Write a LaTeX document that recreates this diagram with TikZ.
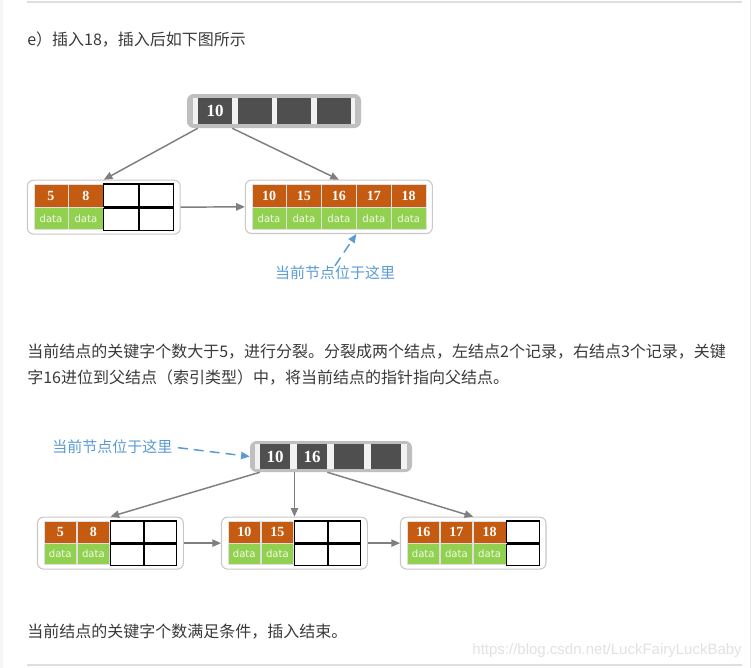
\documentclass[tikz,border=0pt]{standalone}
\usepackage{fontspec}
\setmainfont{Noto Sans CJK SC}
\newfontfamily\numfont{Liberation Serif}
\newfontfamily\datfont{DejaVu Sans}
\newfontfamily\wmfont{Liberation Sans}
\usepackage{tikz}
\usetikzlibrary{arrows.meta,positioning,fit}
\definecolor{keyorange}{HTML}{C55A11}
\definecolor{datagreen}{HTML}{92D050}
\definecolor{rootdark}{HTML}{4F4F4F}
\definecolor{rootgray}{HTML}{BFBFBF}
\definecolor{rootstrip}{HTML}{F2F2F2}
\definecolor{framegray}{HTML}{C8C8C8}
\definecolor{linkgray}{HTML}{7F7F7F}
\definecolor{notblue}{HTML}{5B9BD5}
\definecolor{bodytext}{HTML}{3A3A3A}
\definecolor{rulegray}{HTML}{DEDEDE}
\definecolor{markgray}{HTML}{E2E2E2}
\definecolor{soft}{HTML}{F5F6F8}

\begin{document}
\begin{tikzpicture}[
 x=0.75pt,y=-0.75pt,
 node distance=0pt,
 txt/.style={anchor=west,inner sep=0pt,text=bodytext,font=\fontsize{12pt}{16pt}\selectfont},
 note/.style={inner sep=0pt,text=notblue,font=\fontsize{11.25pt}{14pt}\selectfont},
 keycell/.style={draw=white!75!gray,line width=0.5pt,fill=keyorange,text=white,inner sep=0pt,
   minimum width=25.7pt,minimum height=17.25pt,font=\numfont\bfseries\fontsize{10.5pt}{12pt}\selectfont},
 datacell/.style={draw=white!75!gray,line width=0.5pt,fill=datagreen,text=white!88!datagreen,inner sep=0pt,
   minimum width=25.7pt,minimum height=16.5pt,font=\datfont\fontsize{7.6pt}{9pt}\selectfont},
 nilcell/.style={draw=black,line width=0.8pt,fill=white,inner sep=0pt,minimum width=25.7pt,minimum height=17.25pt},
 lower/.style={minimum height=16.5pt},
 narrow/.style={minimum width=24.4pt},
 leaf/.style={draw=framegray,line width=0.8pt,rounded corners=4.5pt,inner xsep=4.6pt,inner ysep=2.6pt},
 rootbox/.style={fill=rootgray,rounded corners=5pt,inner sep=0pt},
 strip/.style={fill=rootstrip,inner sep=0pt},
 rkey/.style={fill=rootdark,text=white,inner sep=0pt,font=\numfont\bfseries\fontsize{12.75pt}{14pt}\selectfont},
 link/.style={draw=linkgray,line width=1.1pt,-{Triangle[length=6.5pt,width=5.5pt]}},
 cur/.style={draw=notblue,line width=1.1pt,dash pattern=on 7.5pt off 4.5pt,-{Triangle[length=6.5pt,width=5.5pt]}},
]
\useasboundingbox (0,0) rectangle (754,668);
\fill[white] (0,0) rectangle (754,668);
\fill[soft] (0,0) rectangle (3,668);
\draw[rulegray!60,line width=0.6pt] (750,0) -- (750,668);
\draw[rulegray,line width=1pt] (27,2) -- (742,2);
\draw[rulegray,line width=1pt] (27,665) -- (742,665);

% step e: insert 18
\node[txt] (cap1) at (27,40) {e）插入18，插入后如下图所示};

% root before the split
\node[rootbox,minimum width=130.5pt,minimum height=25.5pt] (troot) at (274,111) {};
\node[strip,minimum width=121.5pt,minimum height=19.5pt] (tstrip) at (troot) {};
\node[rkey,minimum width=25.5pt,minimum height=19.5pt] (t10) at (215,111) {10};
\node[rkey,minimum width=25.5pt,minimum height=19.5pt,right=3.75pt of t10] (tr2) {};
\node[rkey,minimum width=25.5pt,minimum height=19.5pt,right=3.75pt of tr2] (tr3) {};
\node[rkey,minimum width=25.5pt,minimum height=19.5pt,right=3.75pt of tr3] (tr4) {};

% left leaf
\node[keycell] (ta5) at (51,195.5) {5};
\node[keycell,right=of ta5] (ta8) {8};
\node[nilcell,right=of ta8] (tan1) {};
\node[nilcell,right=of tan1] (tan2) {};
\node[datacell,below=of ta5] (tad1) {data};
\node[datacell,below=of ta8] (tad2) {data};
\node[nilcell,lower,below=of tan1] (tan3) {};
\node[nilcell,lower,below=of tan2] (tan4) {};
\node[leaf,fit=(ta5)(tan4)] (tl) {};

% right leaf, five records
\node[keycell] (t10b) at (269,195.5) {10};
\node[keycell,right=of t10b] (t15) {15};
\node[keycell,right=of t15] (t16) {16};
\node[keycell,right=of t16] (t17) {17};
\node[keycell,right=of t17] (t18) {18};
\node[datacell,below=of t10b] (tbd1) {data};
\node[datacell,below=of t15] (tbd2) {data};
\node[datacell,below=of t16] (tbd3) {data};
\node[datacell,below=of t17] (tbd4) {data};
\node[datacell,below=of t18] (tbd5) {data};
\node[leaf,fit=(t10b)(tbd5)] (tr) {};

\draw[link] (t10.south west |- troot.south) -- (tl.north);
\draw[link] (t10.south east |- troot.south) -- (tr.north);
\draw[link] (tl.east) -- (tr.west);

\node[note] (tlabel) at (335,273) {当前节点位于这里};
\draw[cur] (tlabel.north) -- (t17.south west |- tr.south);

% explanation
\node[txt] (par1) at (27,352) {当前结点的关键字个数大于5，进行分裂。分裂成两个结点，左结点2个记录，右结点3个记录，关键};
\node[txt] (par2) at (27,378) {字16进位到父结点（索引类型）中，将当前结点的指针指向父结点。};

% root after the split
\node[rootbox,minimum width=121.5pt,minimum height=23.25pt] (broot) at (331,456.5) {};
\node[strip,minimum width=114pt,minimum height=18.75pt] (bstrip) at (broot) {};
\node[rkey,minimum width=22.5pt,minimum height=18.75pt] (b10) at (275,456.5) {10};
\node[rkey,minimum width=22.5pt,minimum height=18.75pt,right=4.875pt of b10] (b16) {16};
\node[rkey,minimum width=22.5pt,minimum height=18.75pt,right=4.875pt of b16] (br3) {};
\node[rkey,minimum width=22.5pt,minimum height=18.75pt,right=4.875pt of br3] (br4) {};

% left leaf
\node[keycell,narrow,minimum height=16.5pt] (l5) at (60.25,532) {5};
\node[keycell,narrow,minimum height=16.5pt,right=of l5] (l8) {8};
\node[nilcell,narrow,minimum height=16.5pt,right=of l8] (ln1) {};
\node[nilcell,narrow,minimum height=16.5pt,right=of ln1] (ln2) {};
\node[datacell,narrow,minimum height=15.75pt,below=of l5] (ld1) {data};
\node[datacell,narrow,minimum height=15.75pt,below=of l8] (ld2) {data};
\node[nilcell,narrow,minimum height=15.75pt,below=of ln1] (ln3) {};
\node[nilcell,narrow,minimum height=15.75pt,below=of ln2] (ln4) {};
\node[leaf,fit=(l5)(ln4)] (bl) {};

% middle leaf
\node[keycell,narrow,minimum height=16.5pt] (m10) at (244.25,532) {10};
\node[keycell,narrow,minimum height=16.5pt,right=of m10] (m15) {15};
\node[nilcell,narrow,minimum height=16.5pt,right=of m15] (mn1) {};
\node[nilcell,narrow,minimum height=16.5pt,right=of mn1] (mn2) {};
\node[datacell,narrow,minimum height=15.75pt,below=of m10] (md1) {data};
\node[datacell,narrow,minimum height=15.75pt,below=of m15] (md2) {data};
\node[nilcell,narrow,minimum height=15.75pt,below=of mn1] (mn3) {};
\node[nilcell,narrow,minimum height=15.75pt,below=of mn2] (mn4) {};
\node[leaf,fit=(m10)(mn4)] (bm) {};

% right leaf
\node[keycell,narrow,minimum height=16.5pt] (r16) at (423.25,532) {16};
\node[keycell,narrow,minimum height=16.5pt,right=of r16] (r17) {17};
\node[keycell,narrow,minimum height=16.5pt,right=of r17] (r18) {18};
\node[nilcell,narrow,minimum height=16.5pt,right=of r18] (rn1) {};
\node[datacell,narrow,minimum height=15.75pt,below=of r16] (rd1) {data};
\node[datacell,narrow,minimum height=15.75pt,below=of r17] (rd2) {data};
\node[datacell,narrow,minimum height=15.75pt,below=of r18] (rd3) {data};
\node[nilcell,narrow,minimum height=15.75pt,below=of rn1] (rn2) {};
\node[leaf,fit=(r16)(rn2)] (br) {};

\draw[link] (b10.south west |- broot.south) -- (bl.north);
\draw[link] (bm.north |- broot.south) -- (bm.north);
\draw[link] (b16.south east |- broot.south) -- (br.north);
\draw[link] (bl.east) -- (bm.west);
\draw[link] (bm.east) -- (br.west);

\node[note,anchor=west] (blabel) at (52,447) {当前节点位于这里};
\draw[cur,shorten <=4pt] (blabel.east) -- (broot.west);

\node[txt] (fin) at (27,632) {当前结点的关键字个数满足条件，插入结束。};
\node[anchor=east,inner sep=0pt,text=markgray,font=\wmfont\fontsize{11.25pt}{13pt}\selectfont] (mark) at (742,651) {https://blog.csdn.net/LuckFairyLuckBaby};
\end{tikzpicture}
\end{document}
